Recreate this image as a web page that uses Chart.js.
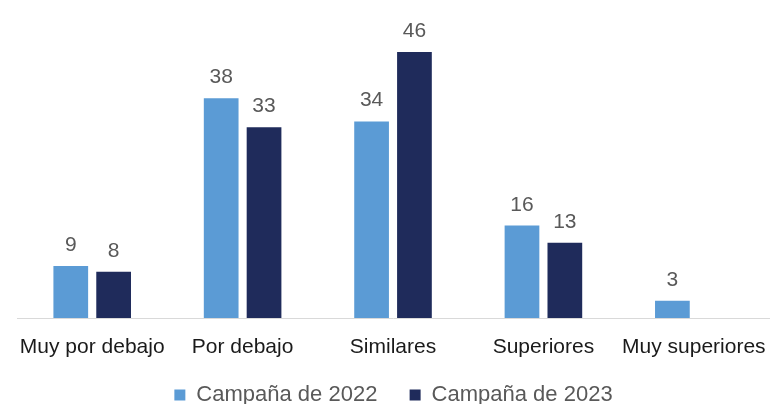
<!DOCTYPE html>
<html>
<head>
<meta charset="utf-8">
<script src="https://cdn.jsdelivr.net/npm/chart.js@4"></script>
<style>
  html, body { margin: 0; padding: 0; background: #fff; }
  #wrap { width: 784px; height: 404px; position: relative; }
</style>
</head>
<body>
<div id="wrap"><canvas id="myChart"></canvas></div>
<script>
var categories = ['Muy por debajo', 'Por debajo', 'Similares', 'Superiores', 'Muy superiores'];
var campana2022 = [9, 38, 34, 16, 3];
var campana2023 = [8, 33, 46, 13, null];

var fontFam = '"Liberation Sans", Arial, sans-serif';

// draw the value above every bar
var valueLabels = {
  id: 'valueLabels',
  afterDatasetsDraw: function(chart) {
    var ctx = chart.ctx;
    ctx.save();
    ctx.font = '21px ' + fontFam;
    ctx.fillStyle = '#595959';
    ctx.textAlign = 'center';
    ctx.textBaseline = 'alphabetic';
    chart.data.datasets.forEach(function(ds, i) {
      chart.getDatasetMeta(i).data.forEach(function(bar, j) {
        if (ds.data[j] == null) return;
        ctx.fillText(ds.data[j], bar.x, bar.y - 15);
      });
    });
    ctx.restore();
  }
};

const ctx = document.getElementById('myChart').getContext('2d');
const myChart = new Chart(ctx, {
  type: 'bar',
  data: {
    labels: categories,
    datasets: [{
      label: 'Campaña de 2022',
      data: campana2022,
      backgroundColor: '#5B9BD5'
    }, {
      label: 'Campaña de 2023',
      data: campana2023,
      backgroundColor: '#1F2B5B'
    }]
  },
  options: {
    responsive: true,
    maintainAspectRatio: false,
    animation: false,
    // negative bottom padding pulls the legend down to the edge
    layout: { padding: { left: 17, right: 14, top: 29, bottom: -12 } },
    datasets: {
      bar: { categoryPercentage: 0.57, barPercentage: 0.81 }
    },
    plugins: {
      legend: {
        position: 'bottom',
        labels: {
          color: '#595959',
          font: { size: 22, family: fontFam },
          boxWidth: 11,
          boxHeight: 11,
          padding: 20,
          generateLabels: function(chart) {
            var items = Chart.defaults.plugins.legend.labels.generateLabels(chart);
            // a bit more room between the two entries
            items[0].text += '  ';
            return items;
          }
        }
      },
      tooltip: { enabled: false }
    },
    scales: {
      x: {
        grid: { display: false, drawTicks: false },
        border: { color: '#D9D9D9', width: 1 },
        ticks: {
          color: '#1a1a1a',
          padding: 17,
          maxRotation: 0,
          font: { size: 21, family: fontFam }
        },
        afterFit: function(scale) { scale.height = 46; }
      },
      y: {
        display: false,
        min: 0,
        max: 50
      }
    }
  },
  plugins: [valueLabels]
});
</script>
</body>
</html>
